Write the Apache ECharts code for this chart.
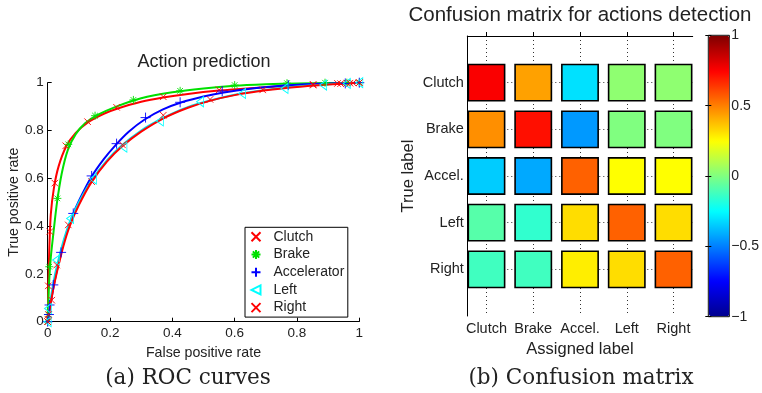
<!DOCTYPE html>
<html><head><meta charset="utf-8">
<script src="https://cdn.jsdelivr.net/npm/echarts@6/dist/echarts.min.js"></script>
<style>html,body{margin:0;padding:0;background:#fff}#c{width:762px;height:393px}</style>
</head><body><div id="c"></div>
<script>
// ---------- ROC data (fitted curves + sample markers) ----------
const clutchCurve = [[0,0],[0.002,0.15],[0.005,0.3],[0.01,0.45],[0.02,0.56],[0.035,0.65],[0.06,0.735],[0.09,0.79],[0.13,0.835],[0.18,0.87],[0.22,0.89],[0.3,0.92],[0.37,0.938],[0.45,0.953],[0.55,0.967],[0.65,0.977],[0.75,0.985],[0.85,0.992],[0.93,0.996],[1,1]];
const brakeCurve = [[0,0],[0.004,0.15],[0.01,0.27],[0.02,0.39],[0.03,0.5],[0.045,0.62],[0.065,0.72],[0.09,0.785],[0.12,0.83],[0.16,0.865],[0.22,0.9],[0.3,0.935],[0.4,0.96],[0.5,0.976],[0.6,0.987],[0.7,0.993],[0.8,0.997],[0.9,0.999],[1,1]];
const accelCurve = [[0,0],[0.005,0.04],[0.01,0.08],[0.02,0.155],[0.04,0.275],[0.06,0.37],[0.08,0.445],[0.1,0.505],[0.14,0.605],[0.18,0.68],[0.22,0.742],[0.26,0.795],[0.31,0.845],[0.37,0.888],[0.43,0.918],[0.5,0.942],[0.56,0.958],[0.65,0.975],[0.75,0.987],[0.85,0.995],[1,1]];
const leftCurve = [[0,0],[0.005,0.05],[0.01,0.1],[0.02,0.175],[0.03,0.235],[0.05,0.335],[0.07,0.415],[0.1,0.5],[0.14,0.59],[0.19,0.675],[0.24,0.74],[0.3,0.8],[0.36,0.845],[0.43,0.888],[0.5,0.918],[0.6,0.95],[0.7,0.97],[0.8,0.984],[0.9,0.993],[1,1]];
const rightCurve = [[0,0],[0.005,0.04],[0.01,0.08],[0.02,0.15],[0.03,0.21],[0.05,0.315],[0.07,0.398],[0.1,0.488],[0.14,0.583],[0.19,0.67],[0.24,0.735],[0.3,0.795],[0.37,0.85],[0.45,0.895],[0.52,0.924],[0.6,0.948],[0.7,0.968],[0.8,0.982],[0.9,0.992],[1,1]];

const clutchPts = [[0,0],[0.001,0.01],[0.002,0.15],[0.007,0.377],[0.023,0.58],[0.058,0.736],[0.128,0.837],[0.221,0.897],[0.371,0.941],[0.55,0.97],[0.852,0.993],[0.93,0.997],[0.96,0.998],[0.98,0.999],[1,1]];
const brakePts = [[0,0],[0.002,0.03],[0.005,0.23],[0.031,0.516],[0.066,0.742],[0.152,0.862],[0.275,0.928],[0.425,0.966],[0.6,0.99],[0.768,0.998],[0.89,1],[0.96,1],[1,1]];
const accelPts = [[0,0],[0.004,0.03],[0.006,0.07],[0.018,0.154],[0.043,0.29],[0.082,0.453],[0.141,0.61],[0.221,0.745],[0.314,0.854],[0.425,0.918],[0.56,0.965],[0.772,0.99],[0.955,0.997],[1,1]];
const leftPts = [[0,0],[0.001,0.055],[0.027,0.258],[0.072,0.432],[0.145,0.597],[0.243,0.73],[0.36,0.84],[0.489,0.92],[0.624,0.955],[0.76,0.976],[0.884,0.99],[0.96,0.997],[1,1]];
const rightPts = [[0,0],[0.003,0.03],[0.013,0.09],[0.029,0.237],[0.066,0.405],[0.141,0.586],[0.24,0.74],[0.371,0.864],[0.521,0.93],[0.69,0.97],[0.852,0.99],[0.94,0.996],[0.97,0.998],[1,1]];

const rocNames = ['Clutch','Brake','Accelerator','Left','Right'];

// ---------- Confusion matrix ----------
const classes = ['Clutch','Brake','Accel.','Left','Right'];
const confusion = [
  [0.76, 0.435, -0.31, 0.03, 0.03],
  [0.47, 0.72, -0.45, 0.0, 0.0],
  [-0.35, -0.42, 0.56, 0.25, 0.25],
  [-0.083, -0.155, 0.317, 0.56, 0.317],
  [-0.125, -0.125, 0.283, 0.317, 0.56]
];
const classPos = [1,2,3,4,5];
const cbarTicks = [-1,-0.5,0,0.5,1];
const cbarLabels = ['\u22121','\u22120.5','0','0.5','1'];

const FONT = 'Liberation Sans';
const TXT = '#222';

const cells = [];
confusion.forEach((row, r) => row.forEach((v, c) => cells.push([classPos[c], classPos[r], v])));

const jet = ['#00008F','#0000FF','#0080FF','#00FFFF','#80FF80','#FFFF00','#FF8000','#FF0000','#800000'];

const SYM = {
  x: 'path://M0,0L10,10M10,0L0,10',
  star: 'path://M5,0L5,10M0,5L10,5M1.5,1.5L8.5,8.5M8.5,1.5L1.5,8.5',
  plus: 'path://M5,0L5,10M0,5L10,5',
  tri: 'path://M10,0L0,5L10,10Z'
};

function curve(name, data, color) {
  return {type:'line', name: name, xAxisIndex:0, yAxisIndex:0, data: data, showSymbol:false,
    smooth:0.25, lineStyle:{color:color, width:2}, itemStyle:{color:color}, silent:true, animation:false, z:2};
}
function marks(name, data, color, sym, size) {
  return {type:'scatter', name: name, xAxisIndex:0, yAxisIndex:0, data: data, symbol: sym, symbolSize: size,
    itemStyle:{color: sym === SYM.tri ? 'rgba(0,0,0,0)' : color, borderColor: color, borderWidth: 0.9, opacity:1},
    silent:true, animation:false, z:3};
}

const axisLineBlack = {show:true, lineStyle:{color:'#000', width:1}};

const option = {
  animation:false,
  backgroundColor:'#fff',
  textStyle:{fontFamily: FONT},
  title: [
    {text:'Action prediction', left:204, top:53, textAlign:'center', padding:0,
     textStyle:{fontFamily:FONT, fontSize:18, fontWeight:'normal', color:TXT}},
    {text:'Confusion matrix for actions detection', left:580, top:5, textAlign:'center', padding:0,
     textStyle:{fontFamily:FONT, fontSize:20.5, fontWeight:'normal', color:TXT}},
    {text:'(a) ROC curves', left:188, top:367, textAlign:'center', padding:0,
     textStyle:{fontFamily:'DejaVu Serif', fontSize:21.5, fontWeight:'normal', color:TXT}},
    {text:'(b) Confusion matrix', left:581, top:367, textAlign:'center', padding:0,
     textStyle:{fontFamily:'DejaVu Serif', fontSize:21.5, fontWeight:'normal', color:TXT}}
  ],
  legend: {
    data: rocNames, orient:'vertical', left:245, top:227.3, padding:[2.5, 3.5, 2.5, 5.5],
    itemWidth:25, itemHeight:9, itemGap:3.7, selectedMode:false,
    backgroundColor:'#fff', borderColor:'#000', borderWidth:1,
    textStyle:{fontFamily:FONT, fontSize:14, color:TXT}
  },
  grid: [
    {left:47.7, top:82.7, width:311.6, height:239},
    {left:467.3, top:36, width:225.4, height:280},
    {left:708.3, top:35.3, width:21.7, height:281.4, show:true, borderColor:'#000', borderWidth:1, backgroundColor:'rgba(0,0,0,0)'}
  ],
  xAxis: [
    {gridIndex:0, type:'value', min:0, max:1, interval:0.2, axisLine:axisLineBlack,
     axisTick:{show:true, inside:true, length:4, lineStyle:{color:'#000'}},
     axisLabel:{fontFamily:FONT, fontSize:13.5, color:TXT, margin:5}, splitLine:{show:false},
     name:'False positive rate', nameLocation:'middle', nameGap:18,
     nameTextStyle:{fontFamily:FONT, fontSize:14.2, color:TXT}},
    {gridIndex:1, type:'value', min:0.59, max:5.41, axisLine:axisLineBlack,
     axisTick:{show:true, inside:true, length:4, customValues:classPos, lineStyle:{color:'#000'}},
     axisLabel:{fontFamily:FONT, fontSize:14.5, color:TXT, margin:5, customValues:classPos,
       formatter: v => classes[Math.round(v) - 1] || ''},
     splitLine:{show:true, lineStyle:{color:'#333', type:[1,3], width:1}},
     name:'Assigned label', nameLocation:'middle', nameGap:19,
     nameTextStyle:{fontFamily:FONT, fontSize:16.5, color:TXT}},
    {gridIndex:2, type:'value', min:0, max:1, show:false}
  ],
  yAxis: [
    {gridIndex:0, type:'value', min:0, max:1, interval:0.2, axisLine:axisLineBlack,
     axisTick:{show:true, inside:true, length:4, lineStyle:{color:'#000'}},
     axisLabel:{fontFamily:FONT, fontSize:13.5, color:TXT, margin:4}, splitLine:{show:false},
     name:'True positive rate', nameLocation:'middle', nameGap:25.6,
     nameTextStyle:{fontFamily:FONT, fontSize:14.2, color:TXT}},
    {gridIndex:1, type:'value', min:0, max:6, inverse:true, axisLine:axisLineBlack,
     axisTick:{show:true, inside:true, length:4, customValues:classPos, lineStyle:{color:'#000'}},
     axisLabel:{fontFamily:FONT, fontSize:14.5, color:TXT, margin:3.5, customValues:classPos,
       formatter: v => classes[Math.round(v) - 1] || ''},
     splitLine:{show:true, lineStyle:{color:'#333', type:[1,3], width:1}},
     name:'True label', nameLocation:'middle', nameGap:50,
     nameTextStyle:{fontFamily:FONT, fontSize:16.5, color:TXT}},
    {gridIndex:2, type:'value', min:-1, max:1, interval:0.5, position:'right', z:10,
     axisLine:{show:false}, splitLine:{show:false},
     axisTick:{show:true, inside:true, length:3, lineStyle:{color:'#000'}},
     axisLabel:{fontFamily:FONT, fontSize:14, color:TXT, margin:2,
       formatter: v => cbarLabels[cbarTicks.indexOf(v)]}},
    {gridIndex:2, type:'value', min:-1, max:1, interval:0.5, position:'left', z:10,
     axisLine:{show:false}, splitLine:{show:false}, axisLabel:{show:false},
     axisTick:{show:true, inside:true, length:3, lineStyle:{color:'#000'}}}
  ],
  visualMap: {
    type:'continuous', min:-1, max:1, seriesIndex:10, dimension:2,
    left:708.8, top:35.8, itemWidth:20.7, itemHeight:280.4, padding:0,
    calculable:false, hoverLink:false, text:null, showLabel:false,
    inRange:{color: jet}
  },
  series: [
    marks('Clutch', clutchPts, '#FF0000', SYM.x, 6.5),
    curve('Clutch fit', clutchCurve, '#FF0000'),
    marks('Brake', brakePts, '#00E000', SYM.star, 8),
    curve('Brake fit', brakeCurve, '#00E000'),
    marks('Accelerator', accelPts, '#0000FF', SYM.plus, 10),
    curve('Accelerator fit', accelCurve, '#0000FF'),
    marks('Left', leftPts, '#00FFFF', SYM.tri, [7,10]),
    curve('Left fit', leftCurve, '#00E8F0'),
    marks('Right', rightPts, '#FF0000', SYM.x, 6.5),
    curve('Right fit', rightCurve, '#FF0000'),
    {type:'scatter', name:'confusion', xAxisIndex:1, yAxisIndex:1, data: cells, symbol:'rect', symbolSize:36.3,
     itemStyle:{borderColor:'#000', borderWidth:1.6, opacity:1}, silent:true, animation:false, z:5}
  ]
};

const chart = echarts.init(document.getElementById('c'), null, {renderer:'canvas'});
chart.setOption(option);
</script>
</body></html>
